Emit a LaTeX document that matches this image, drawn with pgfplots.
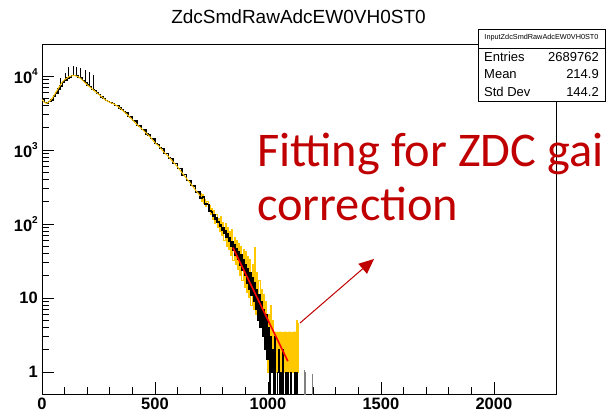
\documentclass[border=0pt]{standalone}
\usepackage{fontspec}
\setmainfont{Liberation Sans}
\newfontfamily\carlito{Carlito}
\usepackage{pgfplots}
\pgfplotsset{compat=1.18}
\usetikzlibrary{arrows.meta}
\definecolor{rootyellow}{RGB}{255,200,0}
\definecolor{annred}{RGB}{192,0,0}
\newcommand{\sups}[1]{\raisebox{8pt}{\fontsize{10}{10}\selectfont #1}}
\begin{document}
\begin{tikzpicture}[x=1pt,y=1pt]
\useasboundingbox (0,0) rectangle (606,416);
\begin{scope}
\clip (0,0) rectangle (606,416);
\begin{axis}[
  at={(42pt,22pt)}, anchor=south west,
  scale only axis, width=514pt, height=350pt,
  xmin=0, xmax=2275, ymode=log, ymin=0.504, ymax=27000,
  axis line style={line width=0.8pt},
  tick pos=left, tick align=inside,
  xtick={0,500,1000,1500,2000},
  xticklabels={0,500,1000,1500,2000},
  minor x tick num=4,
  ytick={1,10,100,1000,10000},
  yticklabels={1,10,10\sups{2},10\sups{3},10\sups{4}},
  major tick length=12pt, minor tick length=7pt,
  every tick/.style={black, line width=0.6pt},
  xticklabel style={font=\fontsize{16.5}{16.5}\selectfont\bfseries, inner sep=0pt, yshift=-4pt},
  yticklabel style={font=\fontsize{16.5}{16.5}\selectfont\bfseries, inner sep=0pt, xshift=-4pt},
]
% yellow tail fluctuations
\addplot[rootyellow, line width=1pt, const plot mark left, forget plot] coordinates {
(700,260) (705,200) (710,250) (715,190) (720,215) (725,170) (730,200) (735,150) (740,175) (745,135)
(750,160) (755,115) (760,150) (765,100) (770,135) (775,90)
(780,120) (785,80) (790,125) (795,70) (800,105) (805,60) (810,100) (815,50) (820,90) (825,45)
(830,80) (835,38) (840,85) (845,32) (850,65) (855,28) (860,60) (865,24) (870,55) (875,20)
(880,50) (885,17) (890,45) (895,14) (900,42) (905,12) (910,36) (915,10) (920,33) (925,8)
(930,28) (935,7) (940,48) (945,6) (950,22) (955,5) (960,17) (965,4) (970,13) (975,3)
(980,11) (985,2.5) (990,9) (995,2) (1000,2)
};
% yellow filled tail
\addplot[fill=rootyellow, draw=rootyellow, const plot mark left, forget plot] coordinates {
(998,6) (1005,3) (1010,8) (1015,3.5) (1020,5) (1025,3.4) (1030,3.5) (1035,3.4) (1040,3.5)
(1045,3.4) (1050,3.5) (1060,3.4) (1070,3.5) (1080,3.4) (1090,3.5) (1100,3.4) (1110,3.5)
(1120,3.5) (1125,5) (1130,4.5) (1134,4.5)
} \closedcycle;
% black histogram
\addplot[black, line width=1.4pt, const plot mark left, forget plot] coordinates {
(0,4900) (10,4350) (20,4250) (30,4550) (40,4750) (50,5350) (60,5850) (70,6700) (80,7300) (90,8300)
(100,8800) (110,9400) (120,9700) (130,10200) (140,10100) (150,10050) (160,9600) (170,9350) (180,8600) (190,8200)
(200,7500) (210,7200) (220,6600) (230,6350) (240,5900) (250,5600) (260,5200) (270,5000) (280,4650) (290,4550)
(300,4350) (310,4250) (320,4000) (330,3950) (340,3700) (350,3550) (360,3300) (370,3150) (380,2850) (390,2800)
(400,2500) (410,2450) (420,2150) (430,2100) (440,1900) (450,1850) (460,1650) (470,1600) (480,1430) (490,1400)
(500,1220) (510,1190) (520,1060) (530,1040) (540,900) (550,900) (560,780) (570,770) (580,660) (590,650)
(600,560) (610,560) (620,460) (630,470) (640,390) (650,390) (660,330) (670,325) (680,270) (690,275)
(700,225) (710,230) (720,185) (730,182) (740,150)
(750,145) (755,128) (760,134) (765,115) (770,120) (775,104) (780,108) (785,92) (790,99) (795,83)
(800,90) (805,74) (810,80) (815,66) (820,73) (825,58) (830,66) (835,50) (840,58) (845,44)
(850,53) (855,38) (860,47) (865,33) (870,42) (875,28) (880,38) (885,24) (890,33) (895,20)
(900,28) (905,16) (910,25) (915,13) (920,22) (925,11) (930,19) (935,9) (940,16) (945,7)
(950,13) (955,5) (960,11) (965,4) (970,9) (975,3) (980,7) (985,2) (990,6) (995,1.5) (1000,1.5)
};
% black histogram, sparse tail
\addplot[black, line width=0.7pt, const plot mark left, forget plot] coordinates {
(995,1.5) (1000,4) (1005,0.1) (1010,3) (1015,1) (1020,2) (1025,0.1) (1030,3) (1035,0.1) (1040,1) (1045,2)
(1050,0.1) (1055,1) (1060,0.1) (1065,2) (1070,0.1) (1075,1) (1080,0.1) (1085,1) (1090,0.1) (1095,0.1)
(1100,1) (1105,0.1) (1110,0.1) (1115,1) (1120,0.1) (1125,1) (1130,0.1) (1140,0.1)
};
% error bars near the peak
\addplot[draw=none, forget plot, error bars/.cd, y dir=plus, y explicit,
  error mark=none, error bar style={draw=black, line width=0.8pt}] coordinates {
(80,7300) +- (0,2000) (102,8850) +- (0,2150) (116,9500) +- (0,3700) (139,10100) +- (0,3600)
(153,10050) +- (0,3150) (168,9400) +- (0,3400) (190,8200) +- (0,3800) (212,7100) +- (0,4200)
(227,6500) +- (0,3800)
};
\addplot[draw=none, forget plot, error bars/.cd, y dir=minus, y explicit,
  error mark=none, error bar style={draw=black, line width=1.2pt}] coordinates {
(3,4900) +- (0,3200)
};
% grey bins
\addplot[draw=none, forget plot, error bars/.cd, y dir=minus, y explicit,
  error mark=none, error bar style={draw=gray, line width=1.2pt}] coordinates {
(1162,1.05) +- (0,1.0) (1168,1.0) +- (0,0.97) (1197,0.95) +- (0,0.92)
};
% yellow smooth curve
\addplot[rootyellow, line width=1pt, forget plot] coordinates {
(0,4800) (10,4400) (20,4250) (30,4450) (40,4750) (50,5250) (60,5900) (70,6600) (80,7400) (90,8300)
(100,8900) (110,9300) (120,9800) (130,10000) (140,10150) (150,10000) (160,9750) (170,9300) (180,8700) (190,8100)
(200,7600) (220,6750) (240,6000) (260,5350) (280,4750) (300,4400) (320,4150) (340,3800) (360,3350) (380,2950)
(400,2550) (420,2200) (440,1950) (460,1700) (480,1480) (500,1250) (520,1100) (540,930) (560,810) (580,690)
(600,590) (620,490) (640,410) (660,345) (680,285) (700,240)
};
% fit
\addplot[red, line width=1.6pt, forget plot] coordinates {(845,48) (1088,1.4)};
\end{axis}
% title
\node[anchor=base, font=\fontsize{19}{19}\selectfont] at (298.5,392.7) {ZdcSmdRawAdcEW0VH0ST0};
% stats box
\draw[fill=white, line width=0.8pt] (478,387) rectangle (605,315);
\draw[line width=0.8pt] (478,368) -- (605,368);
\node[anchor=base, font=\fontsize{7.3}{7.3}\selectfont, inner sep=0pt] at (541.5,376) {InputZdcSmdRawAdcEW0VH0ST0};
\begin{scope}[every node/.style={inner sep=0pt, font=\fontsize{13}{13}\selectfont}]
\node[anchor=base west] at (484,354) {Entries};
\node[anchor=base east] at (599,354) {2689762};
\node[anchor=base west] at (484,337) {Mean};
\node[anchor=base east] at (599,337) {214.9};
\node[anchor=base west] at (484,319) {Std Dev};
\node[anchor=base east] at (599,319) {144.2};
\end{scope}
% annotation
\node[anchor=base west, inner sep=0pt, text=annred, font=\carlito\fontsize{48.4}{48.4}\selectfont] at (257,249) {Fitting for ZDC gai};
\node[anchor=base west, inner sep=0pt, text=annred, font=\carlito\fontsize{48.4}{48.4}\selectfont] at (257,196) {correction};
\draw[annred, line width=1pt, -{Triangle[length=15pt,width=13pt]}] (300,93) -- (374,157);
\end{scope}
\end{tikzpicture}
\end{document}
